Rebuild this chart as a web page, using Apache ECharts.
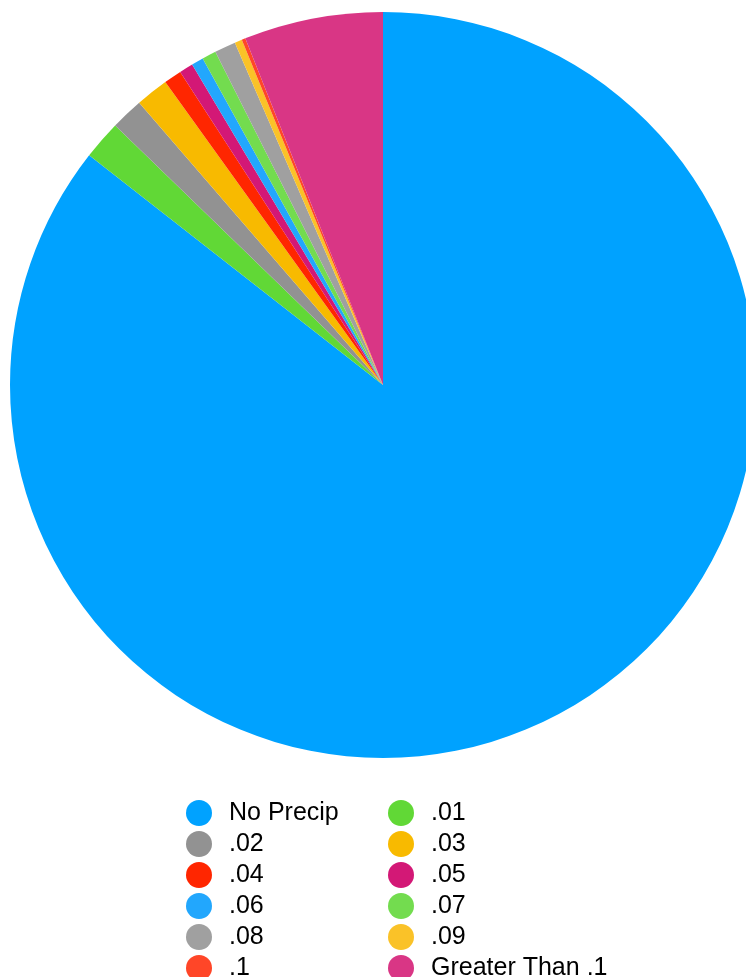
<!DOCTYPE html>
<html>
<head>
<meta charset="utf-8">
<script src="https://cdn.jsdelivr.net/npm/echarts@6/dist/echarts.min.js"></script>
<style>html,body{margin:0;padding:0;background:#fff;}#c{width:746px;height:977px;}</style>
</head>
<body>
<div id="c"></div>
<script>
const categories = ['No Precip', '.01', '.02', '.03', '.04', '.05', '.06', '.07', '.08', '.09', '.1', 'Greater Than .1'];
const values = [85.57, 1.69, 1.41, 1.42, 0.77, 0.60, 0.52, 0.61, 0.92, 0.32, 0.16, 6.02];
const colors = ['#00a2ff', '#61d836', '#929292', '#f8ba00', '#ff2600', '#d31876', '#22a7fd', '#73dc4f', '#a0a0a0', '#fac228', '#ff4628', '#d93685'];
const legendLeft = ['No Precip', '.02', '.04', '.06', '.08', '.1'];
const legendRight = ['.01', '.03', '.05', '.07', '.09', 'Greater Than .1'];

const chart = echarts.init(document.getElementById('c'), null, {renderer: 'canvas'});
const legendCommon = {
  orient: 'vertical',
  top: 800,
  height: 200,
  padding: 0,
  icon: 'circle',
  itemWidth: 26,
  itemHeight: 26,
  itemGap: 5,
  textStyle: {fontFamily: 'Liberation Sans, Arial, sans-serif', fontSize: 25, color: '#000', padding: [0, 0, 0, 12]},
  selectedMode: false
};
chart.setOption({
  animation: false,
  color: colors,
  legend: [
    Object.assign({}, legendCommon, {left: 186, data: legendLeft}),
    Object.assign({}, legendCommon, {left: 388, data: legendRight})
  ],
  series: [{
    type: 'pie',
    center: [383, 385],
    radius: 373,
    startAngle: 90,
    clockwise: true,
    label: {show: false},
    labelLine: {show: false},
    itemStyle: {borderWidth: 0},
    emphasis: {disabled: true},
    data: categories.map((n, i) => ({name: n, value: values[i]}))
  }]
});
</script>
</body>
</html>
